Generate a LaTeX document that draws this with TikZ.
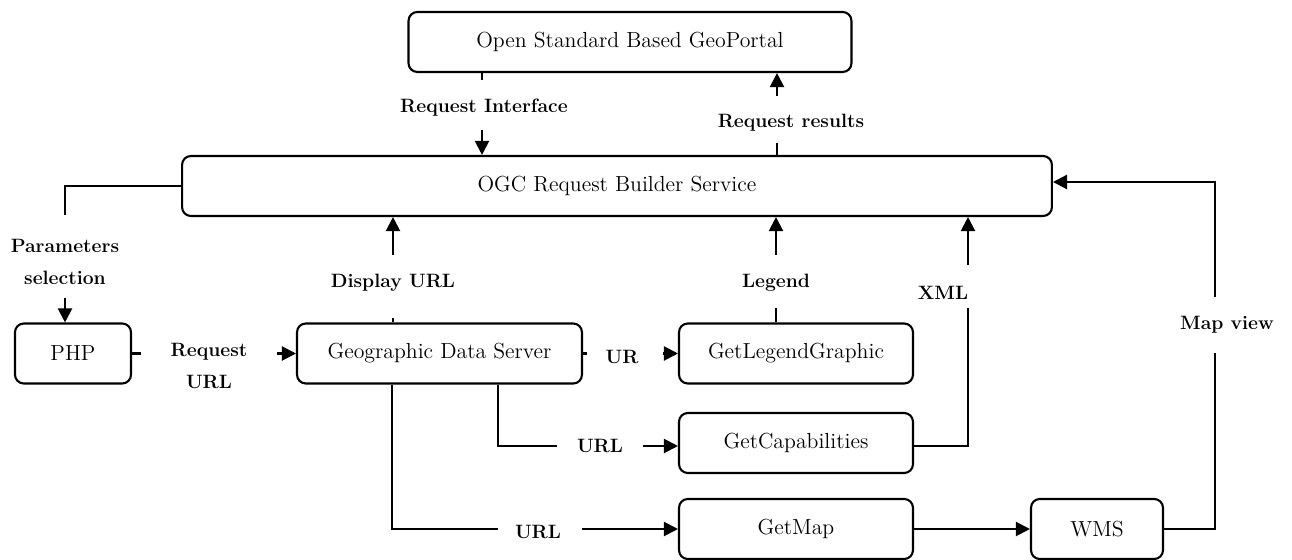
\documentclass[tikz,border=0pt]{standalone}
\usepackage{tikz}
\usetikzlibrary{positioning,arrows.meta}
\tikzset{d/.style={line width=1.2pt}}
\tikzset{tip/.style={-{Triangle[length=8pt,width=8pt]}}}

\begin{document}
\begin{tikzpicture}[x=0.02cm,y=-0.02cm,
box/.style={draw, d, rounded corners=5pt, minimum height=1.2cm, font=\fontsize{12.4}{14}\selectfont},
lbl/.style={font=\fontsize{11}{18.5}\selectfont\bfseries, align=center},
]
\useasboundingbox (0,0) rectangle (1292,560);
%Nodes
\node[box, minimum width=8.86cm] (portal) at (630,42) {Open Standard Based GeoPortal};
\node[box, minimum width=17.4cm] (ogc) at (617,186) {OGC Request Builder Service};
\node[box, minimum width=2.32cm] (php) at (73,353.5) {PHP};
\node[box, minimum width=5.7cm] (gds) at (439.5,353.5) {Geographic Data Server};
\node[box, minimum width=4.68cm] (glg) at (796,353.5) {GetLegendGraphic};
\node[box, minimum width=4.68cm] (gcap) at (796,443) {GetCapabilities};
\node[box, minimum width=4.68cm] (gmap) at (796,529) {GetMap};
\node[box, minimum width=2.64cm] (wms) at (1097,529) {WMS};

%Labels
\node[lbl] (lri) at (484,108) {Request Interface};
\node[lbl] (lrr) at (791,123) {Request results};
\node[lbl] (lps) at (65,262) {Parameters\\selection};
\node[lbl] (lru) at (209,366) {Request\\URL};
\node[lbl] (ldu) at (393,283) {Display URL};
\node[lbl] (lur) at (622,357) {UR};
\node[lbl] (lleg) at (776,283) {Legend};
\node[lbl] (lurla) at (600,446) {URL};
\node[lbl] (lurlb) at (538,532) {URL};
\node[lbl] (lxml) at (943,293) {XML};
\node[lbl] (lmv) at (1227,325) {Map view};

%Gap ends
\coordinate (ri1) at (482,80);
\coordinate (ri2) at (482,130);
\coordinate (rr1) at (777,143);
\coordinate (rr2) at (777,96);
\coordinate (ps1) at (65,215);
\coordinate (ps2) at (65,298);
\coordinate (ru1) at (141,353.5);
\coordinate (ru2) at (277,353.5);
\coordinate (du1) at (393,318);
\coordinate (du2) at (393,255);
\coordinate (ur1) at (587,353.5);
\coordinate (ur2) at (663,353.5);
\coordinate (lg1) at (776,308);
\coordinate (lg2) at (776,255);
\coordinate (uc0) at (498,446);
\coordinate (uc1) at (557,446);
\coordinate (uc2) at (643,446);
\coordinate (um0) at (392,529);
\coordinate (um1) at (498,529);
\coordinate (um2) at (582,529);
\coordinate (xm0) at (968,308);
\coordinate (xm1) at (968,265);
\coordinate (mv0) at (1215,353);
\coordinate (mv1) at (1215,297);
\coordinate (mv2) at (1215,182);

%Lines
\draw[d] (portal.south -| ri1) -- (ri1);
\draw[d,tip] (ri2) -- (ogc.north -| ri2);
\draw[d] (ogc.north -| rr1) -- (rr1);
\draw[d,tip] (rr2) -- (portal.south -| rr2);

\draw[d] (ogc.west) -| (ps1);
\draw[d,tip] (ps2) -- (php.north -| ps2);

\draw[d] (php.east) -- (ru1);
\draw[d,tip] (ru2) -- (gds.west);

\draw[d] (gds.north -| du1) -- (du1);
\draw[d,tip] (du2) -- (ogc.south -| du2);

\draw[d] (gds.east) -- (ur1);
\draw[d,tip] (ur2) -- (glg.west);

\draw[d] (glg.north -| lg1) -- (lg1);
\draw[d,tip] (lg2) -- (ogc.south -| lg2);

\draw[d] (gds.south -| uc0) -- (uc0) -- (uc1);
\draw[d,tip] (uc2) -- (gcap.west |- uc2);

\draw[d] (gds.south -| um0) -- (um0) -- (um1);
\draw[d,tip] (um2) -- (gmap.west);

\draw[d] (gcap.east |- uc0) -| (xm0);
\draw[d,tip] (xm1) -- (ogc.south -| xm1);

\draw[d,tip] (gmap) -- (wms);

\draw[d] (wms.east) -| (mv0);
\draw[d,tip] (mv1) -- (mv2) -- (ogc.east |- mv2);
\end{tikzpicture}
\end{document}
